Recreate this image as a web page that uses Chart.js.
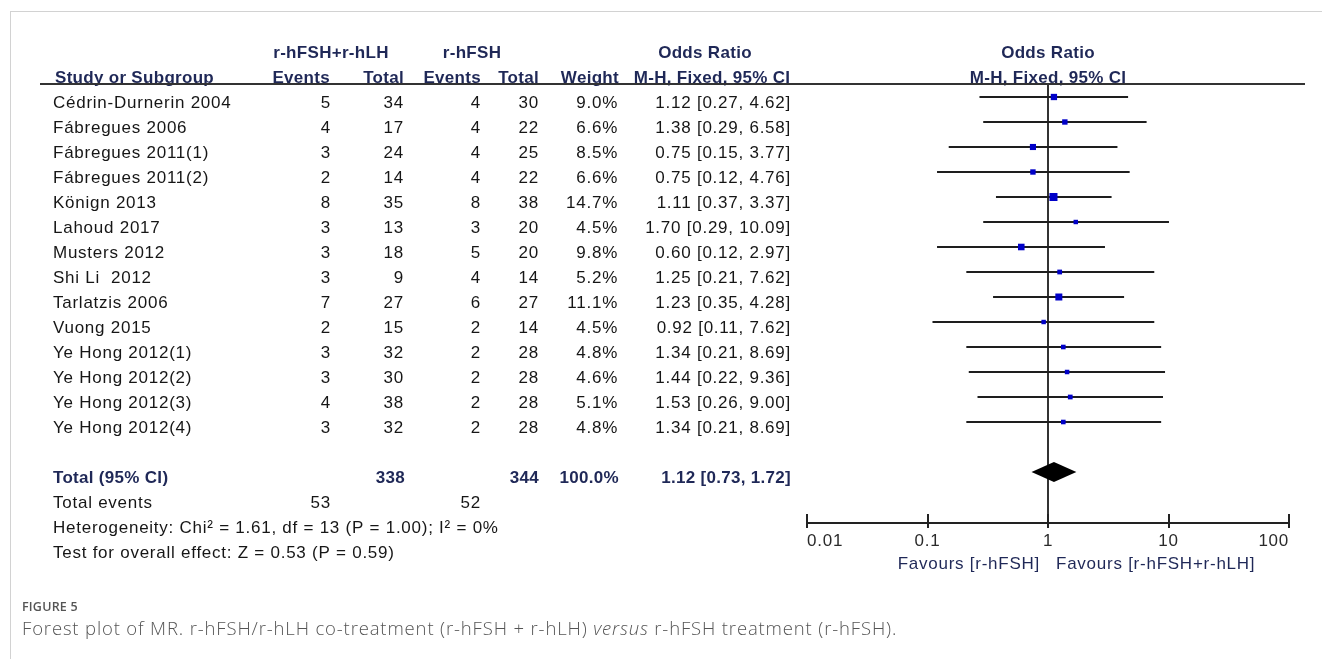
<!DOCTYPE html>
<html>
<head>
<meta charset="utf-8">
<title>Forest plot</title>
<script src="https://cdn.jsdelivr.net/npm/chart.js@4/dist/chart.umd.min.js"></script>
<style>
  html, body { margin: 0; padding: 0; background: #fff; }
  #wrap { position: relative; width: 1322px; height: 659px; overflow: hidden; }
  #frame { position: absolute; left: 10px; top: 11px; width: 1400px; height: 700px;
           border-left: 1px solid #d2d2d2; border-top: 1px solid #d2d2d2; }
  #plot { position: absolute; left: 0; top: 0; }
  #figno { position: absolute; left: 22px; top: 598px; font: 600 12.5px "Open Sans", sans-serif;
           color: #555; letter-spacing: 0.2px; }
  #caption { position: absolute; left: 22px; top: 615px; font: 300 18.5px "Open Sans", sans-serif;
             color: #555; letter-spacing: 0.85px; white-space: nowrap; }
</style>
</head>
<body>
<div id="wrap">
  <div id="frame"></div>
  <canvas id="plot" width="1322" height="659"></canvas>
  <div id="figno">FIGURE 5</div>
  <div id="caption">Forest plot of MR. r-hFSH/r-hLH co-treatment (r-hFSH + r-hLH) <i>versus</i> r-hFSH treatment (r-hFSH).</div>
</div>
<script>
// Study rows
const studies = ["Cédrin-Durnerin 2004", "Fábregues 2006", "Fábregues 2011(1)", "Fábregues 2011(2)",
  "Könign 2013", "Lahoud 2017", "Musters 2012", "Shi Li  2012", "Tarlatzis 2006", "Vuong 2015",
  "Ye Hong 2012(1)", "Ye Hong 2012(2)", "Ye Hong 2012(3)", "Ye Hong 2012(4)"];
const comboEvents = [5, 4, 3, 2, 8, 3, 3, 3, 7, 2, 3, 3, 4, 3];
const comboTotal  = [34, 17, 24, 14, 35, 13, 18, 9, 27, 15, 32, 30, 38, 32];
const fshEvents   = [4, 4, 4, 4, 8, 3, 5, 4, 6, 2, 2, 2, 2, 2];
const fshTotal    = [30, 22, 25, 22, 38, 20, 20, 14, 27, 14, 28, 28, 28, 28];
const weights     = [9.0, 6.6, 8.5, 6.6, 14.7, 4.5, 9.8, 5.2, 11.1, 4.5, 4.8, 4.6, 5.1, 4.8];
const oddsRatio   = [1.12, 1.38, 0.75, 0.75, 1.11, 1.70, 0.60, 1.25, 1.23, 0.92, 1.34, 1.44, 1.53, 1.34];
const ciLow       = [0.27, 0.29, 0.15, 0.12, 0.37, 0.29, 0.12, 0.21, 0.35, 0.11, 0.21, 0.22, 0.26, 0.21];
const ciHigh      = [4.62, 6.58, 3.77, 4.76, 3.37, 10.09, 2.97, 7.62, 4.28, 7.62, 8.69, 9.36, 9.00, 8.69];

// Pooled estimate (OR, lower, upper) and totals
const pooledEstimate = [1.12, 0.73, 1.72];
const pooledWeight = 100.0;
const totalParticipants = [338, 344];
const totalEvents = [53, 52];
const heterogeneityText = "Heterogeneity: Chi² = 1.61, df = 13 (P = 1.00); I² = 0%";
const overallEffectText = "Test for overall effect: Z = 0.53 (P = 0.59)";

// Axis
const axisTicks = [0.01, 0.1, 1, 10, 100];
const axisTickLabels = ["0.01", "0.1", "1", "10", "100"];
const favourLeft = "Favours [r-hFSH]";
const favourRight = "Favours [r-hFSH+r-hLH]";

// Row layout (row index on the vertical scale)
const totalRow = studies.length + 1;

const fmtCI = (o, l, h) => o.toFixed(2) + " [" + l.toFixed(2) + ", " + h.toFixed(2) + "]";

// CI segments: one pair of points per study, broken by gaps
const ciPoints = [];
studies.forEach((s, i) => {
  ciPoints.push({ x: ciLow[i], y: i }, { x: ciHigh[i], y: i }, { x: null, y: null });
});
const orPoints = studies.map((s, i) => ({ x: oddsRatio[i], y: i }));

const REG = '17px "Liberation Sans", Arial, sans-serif';
const BOLD = 'bold 17px "Liberation Sans", Arial, sans-serif';
const HEAD = '#1f2857';
const BODY = '#161616';
const SPACING = '0.75px';

const tablePlugin = {
  id: 'forestTable',
  beforeDraw(chart) {
    chart.ctx.letterSpacing = SPACING;
  },
  afterDatasetsDraw(chart) {
    const { ctx, scales: { x, y } } = chart;
    // pooled diamond
    const yc = y.getPixelForValue(totalRow);
    ctx.save();
    ctx.fillStyle = '#000';
    ctx.beginPath();
    ctx.moveTo(x.getPixelForValue(pooledEstimate[1]), yc);
    ctx.lineTo(x.getPixelForValue(pooledEstimate[0]), yc - 10);
    ctx.lineTo(x.getPixelForValue(pooledEstimate[2]), yc);
    ctx.lineTo(x.getPixelForValue(pooledEstimate[0]), yc + 10);
    ctx.closePath();
    ctx.fill();
    // upper half of the axis tick marks
    ctx.strokeStyle = '#222';
    ctx.lineWidth = 2;
    const b = chart.chartArea.bottom;
    axisTicks.forEach(v => {
      const px = Math.round(x.getPixelForValue(v));
      ctx.beginPath();
      ctx.moveTo(px, b);
      ctx.lineTo(px, b - 9);
      ctx.stroke();
    });
    ctx.restore();
  },
  afterDraw(chart) {
    const { ctx, scales: { x, y }, chartArea } = chart;
    const rowY = r => y.getPixelForValue(r) + 6;
    const put = (t, px, r, align, font, color, spacing) => {
      ctx.font = font;
      ctx.fillStyle = color;
      ctx.textAlign = align;
      ctx.letterSpacing = spacing;
      ctx.fillText(t, px, rowY(r));
    };
    ctx.save();
    ctx.textBaseline = 'middle';
    const one = x.getPixelForValue(1);

    // column headers
    const hb = (t, px, r, align) => put(t, px, r, align, BOLD, HEAD, '0.3px');
    hb("r-hFSH+r-hLH", 331, -2, 'center');
    hb("r-hFSH", 472, -2, 'center');
    hb("Odds Ratio", 705, -2, 'center');
    hb("Odds Ratio", one, -2, 'center');
    hb("Study or Subgroup", 55, -1, 'left');
    hb("Events", 330, -1, 'right');
    hb("Total", 404, -1, 'right');
    hb("Events", 481, -1, 'right');
    hb("Total", 539, -1, 'right');
    hb("Weight", 619, -1, 'right');
    hb("M-H, Fixed, 95% CI", 712, -1, 'center');
    hb("M-H, Fixed, 95% CI", one, -1, 'center');

    // header rule
    ctx.strokeStyle = '#333';
    ctx.lineWidth = 2;
    ctx.beginPath();
    ctx.moveTo(40, chartArea.top);
    ctx.lineTo(1305, chartArea.top);
    ctx.stroke();

    // study rows
    const rb = (t, px, r, align) => put(t, px, r, align, REG, BODY, SPACING);
    studies.forEach((s, i) => {
      rb(s, 53, i, 'left');
      rb(String(comboEvents[i]), 331, i, 'right');
      rb(String(comboTotal[i]), 404, i, 'right');
      rb(String(fshEvents[i]), 481, i, 'right');
      rb(String(fshTotal[i]), 539, i, 'right');
      rb(weights[i].toFixed(1) + "%", 618, i, 'right');
      rb(fmtCI(oddsRatio[i], ciLow[i], ciHigh[i]), 791, i, 'right');
    });

    // totals
    hb("Total (95% CI)", 53, totalRow, 'left');
    hb(String(totalParticipants[0]), 405, totalRow, 'right');
    hb(String(totalParticipants[1]), 539, totalRow, 'right');
    hb(pooledWeight.toFixed(1) + "%", 619, totalRow, 'right');
    hb(fmtCI(pooledEstimate[0], pooledEstimate[1], pooledEstimate[2]), 791, totalRow, 'right');
    rb("Total events", 53, totalRow + 1, 'left');
    rb(String(totalEvents[0]), 331, totalRow + 1, 'right');
    rb(String(totalEvents[1]), 481, totalRow + 1, 'right');
    rb(heterogeneityText, 53, totalRow + 2, 'left');
    rb(overallEffectText, 53, totalRow + 3, 'left');

    // favours labels
    ctx.font = REG;
    ctx.fillStyle = HEAD;
    ctx.letterSpacing = SPACING;
    ctx.textAlign = 'right';
    ctx.fillText(favourLeft, one - 8, 564);
    ctx.textAlign = 'left';
    ctx.fillText(favourRight, one + 8, 564);
    ctx.restore();
  }
};

new Chart(document.getElementById('plot'), {
  type: 'scatter',
  data: {
    datasets: [
      {
        data: orPoints,
        pointStyle: 'rect',
        pointRadius: weights.map(w => 2.1 * Math.sqrt(w) / Math.SQRT2),
        backgroundColor: '#0000c8',
        borderWidth: 0,
        order: 0
      },
      {
        data: ciPoints,
        showLine: true,
        spanGaps: false,
        borderColor: '#1e1e1e',
        borderWidth: 1.9,
        pointRadius: 0,
        order: 1
      }
    ]
  },
  options: {
    responsive: false,
    animation: false,
    devicePixelRatio: 1,
    layout: { padding: { left: 807, right: 33, top: 84, bottom: 106 } },
    plugins: { legend: { display: false }, tooltip: { enabled: false } },
    scales: {
      x: {
        type: 'logarithmic',
        min: 0.01,
        max: 100,
        afterBuildTicks: s => { s.ticks = axisTicks.map(v => ({ value: v })); },
        afterFit: s => { s.height = 30; },
        ticks: {
          callback: v => axisTickLabels[axisTicks.indexOf(v)],
          align: 'inner',
          autoSkip: false,
          maxRotation: 0,
          padding: 3,
          color: '#2a2a2a',
          font: { family: '"Liberation Sans", Arial, sans-serif', size: 17 }
        },
        grid: {
          color: c => (c.tick && c.tick.value === 1 ? '#333' : 'rgba(0,0,0,0)'),
          lineWidth: 2,
          tickColor: '#222',
          tickLength: 5
        },
        border: { color: '#222', width: 2 }
      },
      y: { type: 'linear', display: false, reverse: true, min: -0.52, max: 17.04 }
    }
  },
  plugins: [tablePlugin]
});
</script>
</body>
</html>
